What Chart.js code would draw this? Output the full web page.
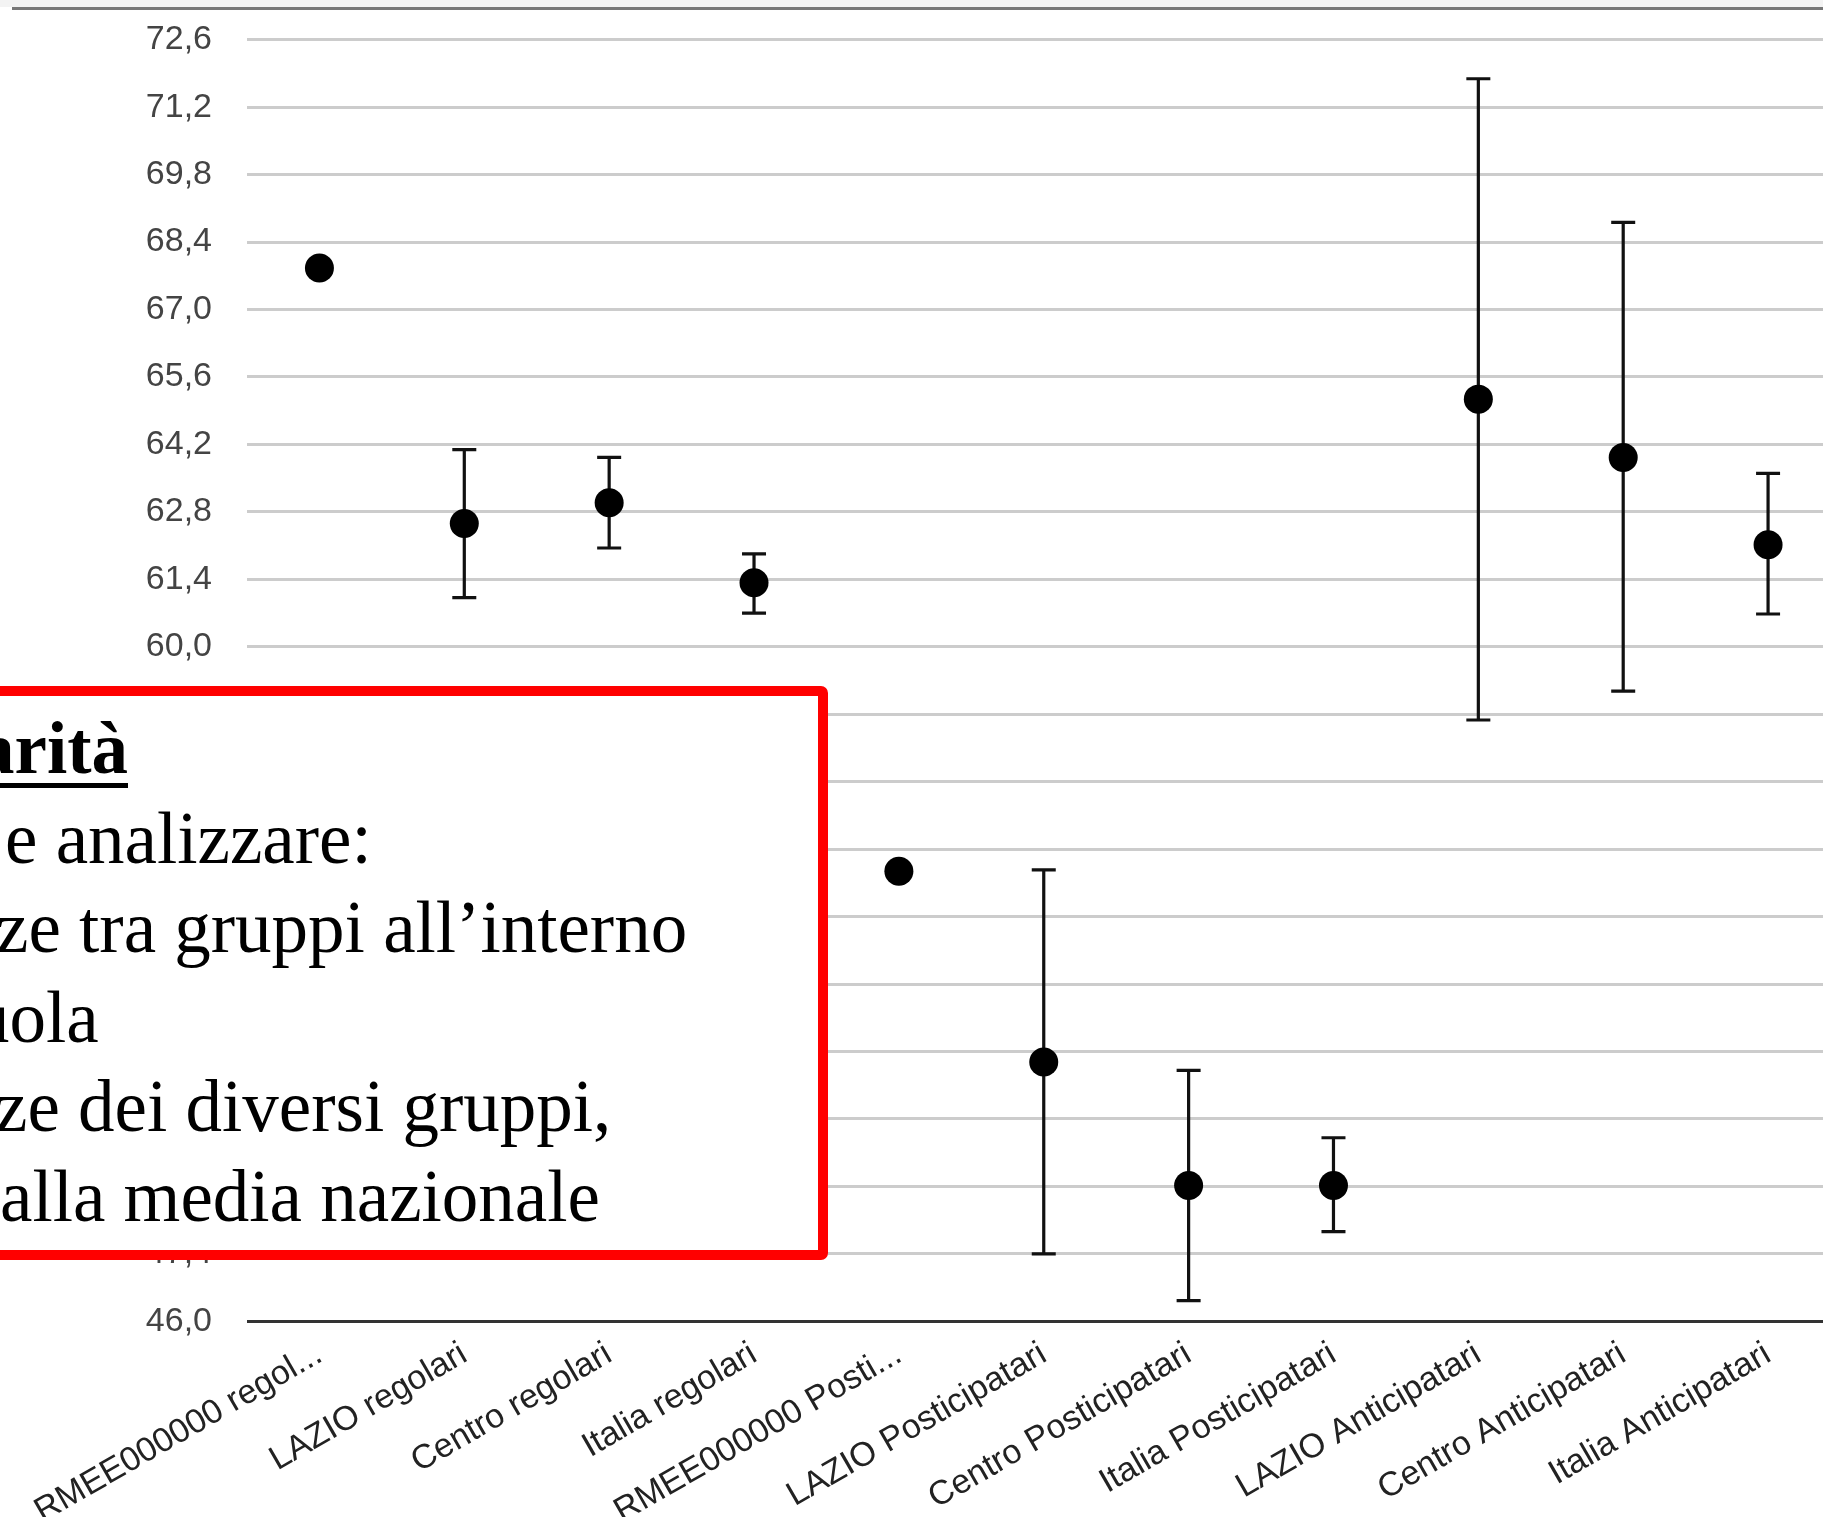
<!DOCTYPE html>
<html>
<head>
<meta charset="utf-8">
<script src="https://cdn.jsdelivr.net/npm/chart.js@4.4.1/dist/chart.umd.min.js"></script>
<style>
  html, body { margin: 0; padding: 0; background: #ffffff; overflow: hidden; width: 1823px; height: 1517px; }
  #wrap { position: absolute; left: 0; top: 0; width: 1823px; height: 1517px; overflow: hidden; }
  #c { position: absolute; left: 0; top: 0; }
  #topband { position: absolute; left: 0; top: 0; width: 1823px; height: 7px; background: #f3f3f3; }
  #topline { position: absolute; left: 12px; top: 7px; width: 1811px; height: 3px; background: #777777; }
  #note {
    position: absolute; left: -30px; top: 686px; width: 858px; height: 574px;
    box-sizing: border-box; border: 10px solid #ff0000; border-radius: 7px; background: #ffffff;
    font-family: "Liberation Serif", "Times New Roman", serif; font-size: 73px; line-height: 89.6px;
    color: #000000; padding-top: 8px; white-space: nowrap; overflow: hidden;
  }
  .ln { display: block; }
  .ttl { font-weight: bold; text-decoration: underline; text-decoration-thickness: 5px; text-underline-offset: 10px; }
</style>
</head>
<body>
<div id="wrap">
  <canvas id="c" width="1855" height="1562"></canvas>
  <div id="topband"></div>
  <div id="topline"></div>
  <div id="note">
    <div class="ln" style="margin-left:-2px"><span class="ttl">arità</span></div>
    <div class="ln" style="margin-left:25px">e analizzare:</div>
    <div class="ln" style="margin-left:16px">ze tra gruppi all’interno</div>
    <div class="ln" style="margin-left:-7px">uola</div>
    <div class="ln" style="margin-left:15px">ze dei diversi gruppi,</div>
    <div class="ln" style="margin-left:20px">alla media nazionale</div>
  </div>
</div>
<script>
const categories = [
  "RMEE000000 regol...", "LAZIO regolari", "Centro regolari", "Italia regolari",
  "RMEE000000 Posti...", "LAZIO Posticipatari", "Centro Posticipatari", "Italia Posticipatari",
  "LAZIO Anticipatari", "Centro Anticipatari", "Italia Anticipatari"
];
const means       = [67.86, 62.56, 62.99, 61.33, 55.34, 51.38, 48.82, 48.82, 65.14, 63.93, 62.12];
const lowerBounds = [null,  61.02, 62.05, 60.70, null,  47.40, 46.43, 47.86, 58.48, 59.08, 60.68];
const upperBounds = [null,  64.09, 63.93, 61.93, null,  55.37, 51.21, 49.81, 71.79, 68.81, 63.60];
const yTickValues = [46.0, 47.4, 48.8, 50.2, 51.6, 53.0, 54.4, 55.8, 57.2, 58.6, 60.0,
                     61.4, 62.8, 64.2, 65.6, 67.0, 68.4, 69.8, 71.2, 72.6];

const CANVAS_H = 1562;
const PLOT_BOTTOM = 1321.3;
const PLOT_TOP = 39.7;
const PLOT_LEFT = 247;

const errorBars = {
  id: 'errorBars',
  beforeDatasetsDraw(chart) {
    const { ctx, scales: { x, y } } = chart;
    ctx.save();
    ctx.strokeStyle = '#111111';
    ctx.lineWidth = 3.2;
    const half = 12;
    for (let i = 0; i < categories.length; i++) {
      if (lowerBounds[i] == null || upperBounds[i] == null) continue;
      const px = x.getPixelForValue(i);
      const yl = y.getPixelForValue(lowerBounds[i]);
      const yh = y.getPixelForValue(upperBounds[i]);
      ctx.beginPath();
      ctx.moveTo(px, yh); ctx.lineTo(px, yl);
      ctx.moveTo(px - half, yh); ctx.lineTo(px + half, yh);
      ctx.moveTo(px - half, yl); ctx.lineTo(px + half, yl);
      ctx.stroke();
    }
    ctx.restore();
  }
};

Chart.defaults.font.family = '"Liberation Sans", Arial, sans-serif';

new Chart(document.getElementById('c'), {
  type: 'line',
  data: {
    labels: categories,
    datasets: [{
      data: means,
      showLine: false,
      pointRadius: 14.5,
      pointHoverRadius: 14.5,
      pointBackgroundColor: '#000000',
      pointBorderColor: '#000000',
      pointBorderWidth: 0
    }]
  },
  options: {
    responsive: false,
    animation: false,
    devicePixelRatio: 1,
    events: [],
    layout: { padding: { top: PLOT_TOP, left: 0, right: 3, bottom: 0 } },
    plugins: { legend: { display: false }, tooltip: { enabled: false } },
    scales: {
      x: {
        type: 'category',
        offset: true,
        grid: { display: false, drawTicks: false },
        border: { display: false },
        ticks: {
          autoSkip: false,
          minRotation: 30,
          maxRotation: 30,
          padding: 13,
          color: '#222222',
          font: { size: 34 }
        },
        afterFit(scale) {
          scale.height = CANVAS_H - PLOT_BOTTOM;
          scale.paddingLeft = 0;
          scale.paddingRight = 0;
        }
      },
      y: {
        min: 46,
        max: 72.6,
        grid: {
          drawTicks: false,
          lineWidth: 3,
          color: (ctx) => (ctx.index === 0 ? '#333333' : '#cccccc')
        },
        border: { display: false },
        ticks: {
          padding: 35,
          color: '#444444',
          font: { size: 34 },
          callback: (v) => Number(v).toFixed(1).replace('.', ',')
        },
        afterBuildTicks(scale) {
          scale.ticks = yTickValues.map(v => ({ value: v }));
        },
        afterFit(scale) {
          scale.width = PLOT_LEFT;
          scale.paddingTop = 0;
          scale.paddingBottom = 0;
        }
      }
    }
  },
  plugins: [errorBars]
});
</script>
</body>
</html>
